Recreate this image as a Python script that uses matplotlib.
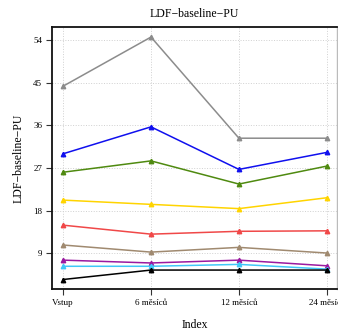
import matplotlib
matplotlib.use("Agg")
import matplotlib.pyplot as plt

categories = ["Vstup", "6 měsíců", "12 měsíců", "24 měsíců"]
series = {
    "gray":   [44.3, 54.7, 33.3, 33.3],
    "blue":   [30.0, 35.7, 26.7, 30.3],
    "green":  [26.1, 28.5, 23.6, 27.4],
    "yellow": [20.2, 19.3, 18.4, 20.7],
    "red":    [14.9, 13.0, 13.6, 13.7],
    "brown":  [10.7, 9.2, 10.2, 9.0],
    "purple": [7.5, 6.9, 7.5, 6.3],
    "cyan":   [6.2, 6.2, 6.6, 5.6],
    "black":  [3.4, 5.4, 5.4, 5.4],
}
colors = {
    "gray": "#8c8c8c", "blue": "#1010ee", "green": "#4f8a10", "yellow": "#ffd400",
    "red": "#f04848", "brown": "#a08a70", "purple": "#9a1aa0", "cyan": "#40c8f8",
    "black": "#000000",
}
yticks = [9, 18, 27, 36, 45, 54]

plt.rcParams['font.family'] = ['Liberation Serif', 'DejaVu Serif']
fig = plt.figure(figsize=(3.38, 3.31), dpi=100)
ax = fig.add_axes([0.154, 0.127, 0.843, 0.791])
x = list(range(1, len(categories) + 1))
for k, v in series.items():
    ax.plot(x, v, color=colors[k], lw=1.1, marker='^', ms=3.2, zorder=3)

ax.set_xlim(0.875, 4.115)
ax.set_ylim(1.4, 56.8)
ax.set_xticks(x)
ax.set_xticklabels(categories, fontsize=6.5)
ax.set_yticks(yticks)
ax.set_yticklabels([str(t) for t in yticks], fontsize=6.5)
ax.grid(True, color='#d0d0d0', ls=':', lw=0.7)
ax.tick_params(direction='out', length=4, width=0.8, color='#333333', pad=3)
for s in ['left', 'bottom', 'top']:
    ax.spines[s].set_color('#111111')
    ax.spines[s].set_linewidth(1.3)
ax.spines['right'].set_color('#bbbbbb')
ax.spines['right'].set_linewidth(1.0)
ax.set_title("LDF\u2212baseline\u2212PU", fontsize=8.5, pad=7)
ax.set_ylabel("LDF\u2212baseline\u2212PU", fontsize=8.5, labelpad=6)
ax.set_xlabel("Index", fontsize=8.5, labelpad=9)
fig.savefig("out.png", dpi=100)
